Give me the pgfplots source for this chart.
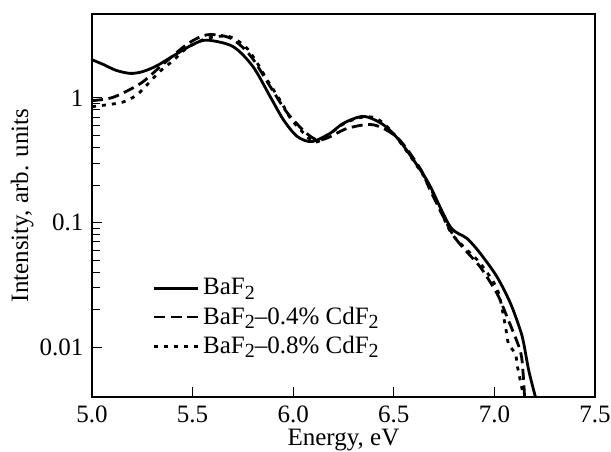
\documentclass[border=0pt]{standalone}
\usepackage{fontspec}
\setmainfont{Liberation Serif}
\usepackage{pgfplots}
\pgfplotsset{compat=1.18}
\newcommand{\sub}[1]{\raisebox{-0.4ex}{\fontsize{10}{11}\selectfont #1}}
\begin{document}
\fontsize{12.5}{14}\selectfont
\begin{tikzpicture}
\begin{axis}[
  ymode=log,
  scale only axis,
  width=251.5pt, height=191.5pt,
  xmin=5, xmax=7.5, ymin=0.004, ymax=4.7,
  xtick={5,5.5,6,6.5,7,7.5},
  xticklabels={5.0,5.5,6.0,6.5,7.0,7.5},
  ytick={0.01,0.1,1},
  yticklabels={0.01,0.1,1},
  xtick pos=bottom, ytick pos=left,
  tick align=inside,
  major tick length=5pt, minor tick length=4pt,
  every tick/.style={black, line width=0.5pt},
  axis line style={line width=0.6pt},
  /pgf/number format/assume math mode=true,
  xlabel={Energy, eV},
  ylabel={Intensity, arb. units},
  xlabel style={at={(axis description cs:0.5,-0.112)}, anchor=center},
  ylabel style={at={(axis description cs:-0.139,0.5)}, anchor=center},
  legend style={draw=none, fill=none, at={(0.108,0.207)}, anchor=west,
    row sep=0pt, font=\fontsize{12.5}{14}\selectfont},
  legend cell align=left,
  legend image code/.code={\draw[#1, line width=1.2pt] (0pt,0pt) -- (22pt,0pt);},
]
\addplot[black, line width=1.4pt, smooth, tension=0.5] coordinates {
(5.000,2.02) (5.060,1.84) (5.120,1.66) (5.190,1.57) (5.250,1.62) (5.320,1.80)
(5.400,2.15) (5.500,2.67)
(5.571,2.90) (5.700,2.58) (5.800,1.78) (5.886,1.02) (5.952,0.665) (6.020,0.49)
(6.093,0.446) (6.184,0.52) (6.250,0.626) (6.350,0.71) (6.449,0.607) (6.532,0.446)
(6.632,0.264) (6.682,0.194) (6.781,0.0925) (6.864,0.0746) (6.930,0.0566)
(7.013,0.0367) (7.080,0.0225) (7.129,0.0137) (7.146,0.0107) (7.171,0.0065)
(7.204,0.0040) (7.214,0.0035)
};
\addlegendentry{BaF\sub{2}}
\addplot[black, line width=1.4pt, dash pattern=on 5.5pt off 2.8pt, smooth, tension=0.5] coordinates {
(5.000,0.95) (5.105,1.01) (5.240,1.30) (5.340,1.78) (5.470,2.67) (5.571,3.20)
(5.690,3.00) (5.790,2.15) (5.890,1.20) (5.985,0.71) (6.120,0.46) (6.270,0.57)
(6.400,0.607) (6.520,0.475) (6.632,0.27) (6.682,0.18) (6.790,0.082) (6.864,0.058)
(6.930,0.044) (7.013,0.027) (7.063,0.0175) (7.129,0.0093) (7.144,0.0058)
(7.150,0.0040) (7.155,0.0035)
};
\addlegendentry{BaF\sub{2}–0.4\% CdF\sub{2}}
\addplot[black, line width=1.4pt, dash pattern=on 2pt off 3pt, smooth, tension=0.5] coordinates {
(5.000,0.85) (5.149,0.92) (5.224,1.06) (5.279,1.30) (5.338,1.63) (5.403,1.99)
(5.471,2.50) (5.572,3.00) (5.682,3.10) (5.761,2.58) (5.811,2.02) (5.876,1.35)
(5.944,0.906) (5.985,0.69) (6.043,0.54) (6.109,0.44) (6.184,0.52) (6.259,0.63)
(6.343,0.70) (6.408,0.69) (6.466,0.59) (6.532,0.44) (6.632,0.26) (6.682,0.19)
(6.781,0.085) (6.866,0.060) (6.930,0.047) (7.015,0.029) (7.055,0.0146)
(7.070,0.0107) (7.104,0.0089) (7.114,0.0071) (7.139,0.0045) (7.144,0.0039)
(7.146,0.0035)
};
\addlegendentry{BaF\sub{2}–0.8\% CdF\sub{2}}
\end{axis}
\pgfresetboundingbox
\path[use as bounding box] ([xshift=-46pt,yshift=-27.5pt]current axis.south west) rectangle ([xshift=8pt,yshift=7pt]current axis.north east);
\end{tikzpicture}
\end{document}
